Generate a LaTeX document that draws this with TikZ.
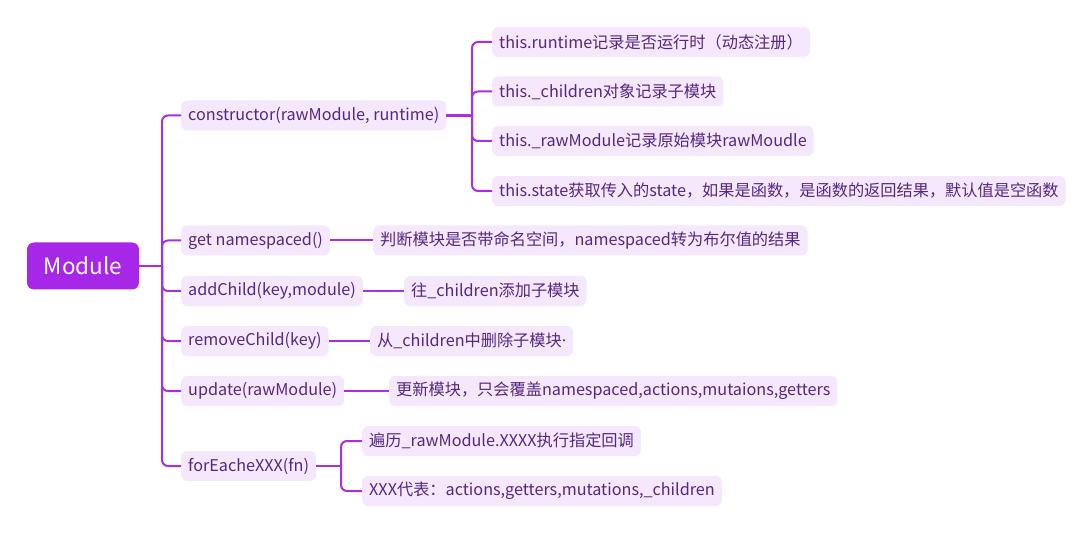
\documentclass[tikz,border=0pt]{standalone}
\usepackage{fontspec}
\setmainfont{Noto Sans CJK SC}
\newfontfamily\latinf{Noto Sans}
\usetikzlibrary{calc}
\definecolor{linec}{HTML}{A82FE3}
\definecolor{rootc}{HTML}{A727E8}
\definecolor{boxc}{HTML}{F5E7FC}
\definecolor{txtc}{HTML}{55287F}
\begin{document}
\begin{tikzpicture}[x=1pt,y=-1pt,
  rootbox/.style={fill=rootc,text=white,rounded corners=7pt,minimum width=112pt,minimum height=47pt,font=\fontsize{22.5}{26}\selectfont,inner sep=0pt},
  itembox/.style={fill=boxc,text=txtc,rounded corners=6pt,minimum height=30pt,inner xsep=7pt,inner ysep=0pt,anchor=west,font=\fontsize{16.2}{19}\selectfont},
  branch/.style={draw=linec,line width=2pt,rounded corners=6pt},
  stub/.style={draw=linec,line width=2.6pt}]
\useasboundingbox (0,0) rectangle (1083,534);
\node[rootbox] (root) at (83,266) {Module};
\node[itembox] (c) at (181,115.5) {constructor(rawModule, runtime)};
\node[itembox] (g) at (181,240.5) {get namespaced()};
\node[itembox] (a) at (181,291) {addChild(key,module)};
\node[itembox] (r) at (181,341) {removeChild(key)};
\node[itembox] (u) at (181,391) {update(rawModule)};
\node[itembox] (f) at (181,466) {forEacheXXX(fn)};
\node[itembox] (c1) at (492,42) {this.runtime记录是否运行时（动态注册）};
\node[itembox] (c2) at (492,91.5) {this.\_children对象记录子模块};
\node[itembox] (c3) at (492,141) {this.\_rawModule记录原始模块rawMoudle};
\node[itembox] (c4) at (492,191) {this.state获取传入的state，如果是函数，是函数的返回结果，默认值是空函数};
\node[itembox] (g1) at (373,240.5) {判断模块是否带命名空间，namespaced转为布尔值的结果};
\node[itembox] (a1) at (404,291) {往\_children添加子模块};
\node[itembox] (r1) at (370,341) {从\_children中删除子模块{\latinf ·}};
\node[itembox] (u1) at (389,391) {更新模块，只会覆盖namespaced,actions,mutaions,getters};
\node[itembox] (f1) at (362,441) {遍历\_rawModule.XXXX执行指定回调};
\node[itembox] (f2) at (362,491) {XXX代表：actions,getters,mutations,\_children};
\coordinate (rj) at (162,266);
\coordinate (cj) at (472,115.5);
\coordinate (fj) at (341,466);
\draw[stub] (root.east) -- (rj);
\foreach \n in {c,g,a,r,u,f} \draw[branch] (rj) |- (\n.west);
\draw[stub] (c.east) -- (cj);
\foreach \n in {c1,c2,c3,c4} \draw[branch] (cj) |- (\n.west);
\draw[stub] (f.east) -- (fj);
\foreach \n in {f1,f2} \draw[branch] (fj) |- (\n.west);
\draw[branch] (g.east) -- (g1.west);
\draw[branch] (a.east) -- (a1.west);
\draw[branch] (r.east) -- (r1.west);
\draw[branch] (u.east) -- (u1.west);
\end{tikzpicture}
\end{document}
